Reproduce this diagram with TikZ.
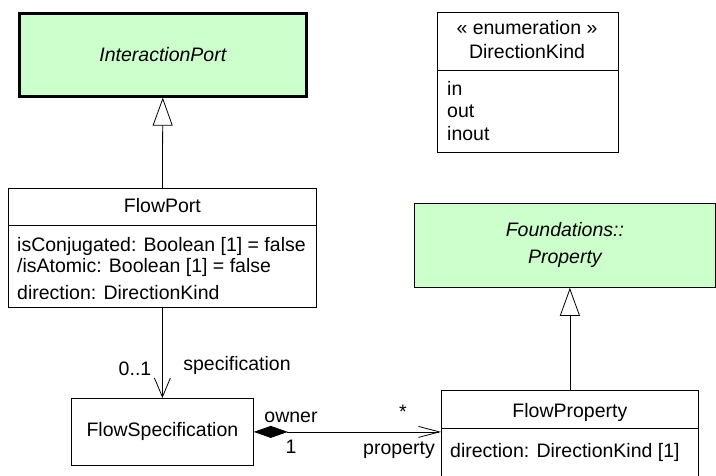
\documentclass[tikz,border=0pt]{standalone}
\usepackage{fontspec}
\setmainfont{Liberation Sans}
\usetikzlibrary{arrows.meta}
\definecolor{umlgreen}{HTML}{CCFFCC}
\tikzset{
  cls/.style={draw, line width=0.8pt, rectangle, inner sep=0pt, anchor=north west},
  txt/.style={inner sep=0pt, anchor=base west},
  role/.style={inner sep=0pt, anchor=base},
  gen/.style={line width=0.8pt, -{Triangle[length=28pt, width=20pt, fill=white, line width=0.8pt]}},
  nav/.style={line width=0.8pt, -{Straight Barb[length=19pt, width=16pt, line width=0.8pt]}},
  comp/.style={line width=0.8pt, {Diamond[length=34pt, width=12pt]}-{Straight Barb[length=21pt, width=11pt, line width=0.8pt]}}
}
\begin{document}
\begin{tikzpicture}[x=1pt, y=-1pt, font=\fontsize{19.5}{22}\selectfont]
    \useasboundingbox (0,0) rectangle (716,475);

    % abstrakte Klassen
    \node[cls, fill=umlgreen, line width=2.6pt, minimum width=287pt, minimum height=83pt]
        (iport) at (18,12) {\itshape InteractionPort};
    \node[cls, fill=umlgreen, minimum width=301pt, minimum height=84pt, align=center,
        font=\fontsize{19.5}{27}\selectfont\itshape]
        (prop) at (414,203) {Foundations::\\Property};

    % Enumeration
    \node[cls, minimum width=181pt, minimum height=140pt] (dkind) at (437,12) {};
    \draw[line width=0.8pt] (dkind.west |- 0,70) -- (dkind.east |- 0,70);
    \node[role] (dkstereo) at (527,34) {« enumeration »};
    \node[role] (dkname) at (527,58) {DirectionKind};
    \node[txt] (dkin) at (447,95) {in};
    \node[txt] (dkout) at (447,117) {out};
    \node[txt] (dkinout) at (447,140) {inout};

    % FlowPort
    \node[cls, minimum width=308pt, minimum height=119pt] (fport) at (8,188) {};
    \draw[line width=0.8pt] (fport.west |- 0,225) -- (fport.east |- 0,225);
    \node[role] (fportname) at (fport.north |- 0,212) {FlowPort};
    \node[txt] (fportconj) at (17,251) {isConjugated: Boolean [1] = false};
    \node[txt] (fportatom) at (17,272) {/isAtomic: Boolean [1] = false};
    \node[txt] (fportdir) at (17,299) {direction: DirectionKind};

    % FlowSpecification
    \node[cls, minimum width=182pt, minimum height=67pt] (fspec) at (71,398) {FlowSpecification};

    % FlowProperty
    \node[cls, minimum width=257pt, minimum height=100pt] (fprop) at (441,390) {};
    \draw[line width=0.8pt] (fprop.west |- 0,428) -- (fprop.east |- 0,428);
    \node[role] (fpropname) at (fprop.north |- 0,417) {FlowProperty};
    \node[txt] (fpropdir) at (450,457) {direction: DirectionKind [1]};

    % Generalisierungen
    \draw[gen] (fport.north) -- (iport.south);
    \draw[gen] (fprop.north) -- (fprop.north |- prop.south);

    % Assoziationen
    \draw[nav] (fport.south) -- (fspec.north);
    \node[role] (specmult) at (135,375) {0..1};
    \node[role] (specrole) at (237,370) {specification};

    \draw[comp] (fspec.east) -- (fspec.east -| fprop.west);
    \node[role] (ownrole) at (291,422) {owner};
    \node[role] (ownmult) at (291,453) {1};
    \node[role] (propmult) at (403,418) {*};
    \node[role] (proprole) at (399,454) {property};
\end{tikzpicture}
\end{document}
